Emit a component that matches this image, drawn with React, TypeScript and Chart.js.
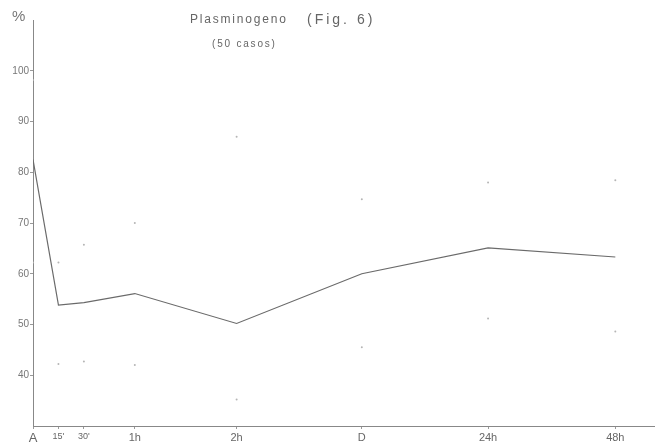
import React, { useEffect, useRef } from "react";
import { Chart, registerables } from "chart.js";

Chart.register(...registerables);

// ---- data ----
const tickLabels = ["A", "15'", "30'", "1h", "2h", "D", "24h", "48h"];
const xPositions = [0, 0.25, 0.5, 1, 2, 3.23, 4.47, 5.72];
const meanValues = [82.5, 53.8, 54.3, 56.1, 50.2, 60.0, 65.1, 63.3];
const upperValues = [98.2, 62.2, 65.7, 70.0, 87.0, 74.7, 78.0, 78.4];
const lowerValues = [62.2, 42.2, 42.7, 42.0, 35.2, 45.5, 51.2, 48.6];
const yTicks = [40, 50, 60, 70, 80, 90, 100];

const titleMain = "Plasminogeno";
const titleFig = "(Fig. 6)";
const subtitle = "(50 casos)";
const yUnit = "%";

const FONT = "'Liberation Sans', 'DejaVu Sans', sans-serif";

const textPlugin = {
  id: "figTexts",
  afterDraw(chart: any) {
    const ctx = chart.ctx as CanvasRenderingContext2D;
    ctx.save();
    ctx.fillStyle = "#666";
    ctx.textBaseline = "middle";
    ctx.textAlign = "left";
    (ctx as any).letterSpacing = "1.8px";
    ctx.font = `12px ${FONT}`;
    ctx.fillText(titleMain, 190, 20);
    (ctx as any).letterSpacing = "3px";
    ctx.font = `14px ${FONT}`;
    ctx.fillText(titleFig, 307, 20);
    (ctx as any).letterSpacing = "1.8px";
    ctx.font = `10px ${FONT}`;
    ctx.fillText(subtitle, 212, 44);
    (ctx as any).letterSpacing = "0px";
    ctx.font = `15px ${FONT}`;
    ctx.fillStyle = "#777";
    ctx.fillText(yUnit, 12, 17);
    ctx.restore();
  },
};

export default function App() {
  const ref = useRef<HTMLCanvasElement>(null);

  useEffect(() => {
    if (!ref.current) return;
    const pts = (vals: number[]) => vals.map((v, i) => ({ x: xPositions[i], y: v }));
    const chart = new Chart(ref.current, {
      type: "line",
      data: {
        datasets: [
          {
            label: "media",
            data: pts(meanValues),
            borderColor: "#6a6a6a",
            borderWidth: 1.2,
            pointRadius: 0,
            tension: 0,
          },
          {
            label: "sup",
            data: pts(upperValues),
            showLine: false,
            pointRadius: 1,
            pointBorderWidth: 0,
            pointBackgroundColor: "#b5b5b5",
            borderColor: "#b5b5b5",
          },
          {
            label: "inf",
            data: pts(lowerValues),
            showLine: false,
            pointRadius: 1,
            pointBorderWidth: 0,
            pointBackgroundColor: "#b5b5b5",
            borderColor: "#b5b5b5",
          },
        ],
      },
      options: {
        animation: false,
        responsive: false,
        layout: { padding: { top: 20, left: 0, right: 2, bottom: 0 } },
        plugins: {
          legend: { display: false },
          tooltip: { enabled: false },
          title: { display: false },
        },
        scales: {
          x: {
            type: "linear",
            min: 0,
            max: 6.1,
            afterBuildTicks: (scale: any) => {
              scale.ticks = xPositions.map((v) => ({ value: v }));
            },
            afterFit: (scale: any) => {
              scale.height = 18;
            },
            grid: {
              drawOnChartArea: false,
              drawTicks: true,
              tickLength: 3,
              color: "#999",
            },
            border: { color: "#888", width: 1 },
            ticks: {
              autoSkip: false,
              maxRotation: 0,
              padding: 2,
              color: "#666",
              font: (c: any) => {
                const v = c.tick ? c.tick.value : -1;
                if (v === 0) return { family: FONT, size: 13 };
                if (v === 0.25 || v === 0.5) return { family: FONT, size: 9 };
                return { family: FONT, size: 11 };
              },
              callback: (v: any) => {
                const i = xPositions.indexOf(Number(v));
                return i >= 0 ? tickLabels[i] : "";
              },
            },
          },
          y: {
            type: "linear",
            min: 30,
            max: 110,
            afterBuildTicks: (scale: any) => {
              scale.ticks = yTicks.map((v) => ({ value: v }));
            },
            afterFit: (scale: any) => {
              scale.width = 33;
            },
            grid: {
              drawOnChartArea: false,
              drawTicks: true,
              tickLength: 3,
              color: "#999",
            },
            border: { color: "#888", width: 1 },
            ticks: {
              padding: 1,
              color: "#777",
              font: { family: FONT, size: 10 },
            },
          },
        },
      },
      plugins: [textPlugin],
    });
    return () => chart.destroy();
  }, []);

  return (
    <div style={{ position: "absolute", left: 0, top: 0, width: 658, height: 444, background: "#fff" }}>
      <canvas ref={ref} width={658} height={444} style={{ display: "block" }} />
    </div>
  );
}
